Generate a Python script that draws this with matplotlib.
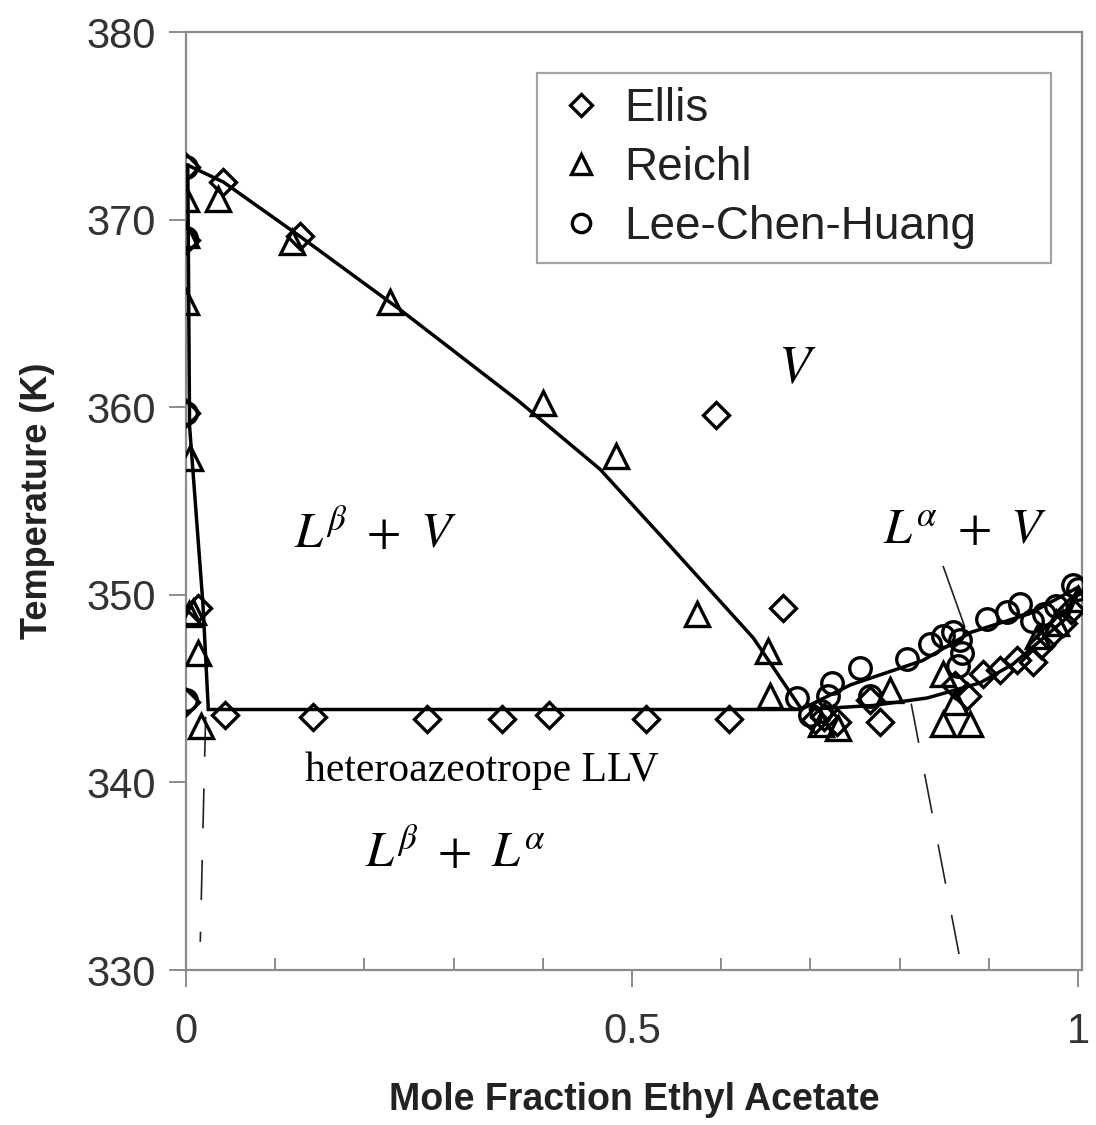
import matplotlib
matplotlib.use("Agg")
import matplotlib.pyplot as plt
from matplotlib.ticker import MultipleLocator

plt.rcParams['font.family'] = ['Liberation Sans', 'DejaVu Sans']
plt.rcParams['mathtext.fontset'] = 'stix'

# ---------------- data ----------------
ellis_x = [0.0, 0.042, 0.128, 0.0, 0.0, 0.013, 0.0, 0.044, 0.142, 0.270, 0.354, 0.407, 0.516, 0.609,
           0.594, 0.669, 0.705, 0.715, 0.730, 0.767, 0.778, 0.862, 0.875, 0.894, 0.913, 0.932, 0.950,
           0.958, 0.968, 0.983, 0.992]
ellis_T = [372.8, 372.0, 369.1, 368.9, 359.7, 349.3, 344.3, 343.6, 343.5, 343.4, 343.4, 343.6, 343.4, 343.4,
           359.6, 349.3, 343.3, 343.5, 343.2, 344.4, 343.2, 345.2, 344.6, 345.8, 346.0, 346.5, 346.4,
           347.3, 347.8, 348.5, 349.2]

reichl_x = [0.0, 0.036, 0.0, 0.119, 0.0, 0.229, 0.004, 0.400, 0.003, 0.482, 0.008, 0.573, 0.013, 0.652,
            0.655, 0.017, 0.712, 0.731, 0.789, 0.849, 0.849, 0.879, 0.862, 0.955, 0.975, 1.0]
reichl_T = [371.1, 371.1, 369.2, 368.8, 365.6, 365.6, 357.3, 360.2, 349.0, 357.4, 349.1, 349.0, 346.9, 347.0,
            344.6, 343.0, 343.1, 342.9, 344.9, 345.8, 343.1, 343.1, 344.3, 347.8, 348.5, 349.8]

lch_x = [0.0, 0.0, 0.0, 0.0, 0.685, 0.700, 0.712, 0.724, 0.720, 0.756, 0.767, 0.808, 0.834, 0.849, 0.860,
         0.868, 0.870, 0.865, 0.898, 0.920, 0.935, 0.948, 0.962, 0.975, 0.994, 1.0]
lch_T = [372.8, 369.0, 359.7, 344.4, 344.5, 343.6, 343.8, 345.3, 344.6, 346.1, 344.6, 346.6, 347.4, 347.8, 348.0,
         347.6, 346.9, 346.2, 348.7, 349.1, 349.5, 348.6, 349.0, 349.4, 350.5, 350.3]

# phase boundary curves
dew_left_x = [0.002, 0.042, 0.128, 0.240, 0.371, 0.464, 0.539, 0.636, 0.690]
dew_left_T = [372.9, 372.0, 369.1, 365.2, 360.4, 356.7, 352.8, 347.7, 343.9]
bub_left_x = [0.002, 0.004, 0.019, 0.025]
bub_left_T = [372.9, 359.0, 349.5, 343.9]
llv_x = [0.025, 0.690]
llv_T = [343.9, 343.9]
dew_right_x = [0.690, 0.745, 0.826, 0.880, 0.946, 1.0]
dew_right_T = [343.9, 345.2, 346.5, 348.0, 349.0, 350.4]
bub_right_x = [0.700, 0.770, 0.831, 0.890, 0.927, 0.988, 1.0]
bub_right_T = [343.9, 344.1, 344.5, 345.3, 346.3, 348.8, 350.1]
dash_left_x = [0.022, 0.016]
dash_left_T = [343.5, 331.5]
dash_right_x = [0.813, 0.870]
dash_right_T = [344.2, 330.0]
pointer_x = [0.849, 0.873]
pointer_T = [351.5, 348.3]

xticks = [0, 0.5, 1]
xticklabels = ['0', '0.5', '1']
yticks = [330, 340, 350, 360, 370, 380]

# ---------------- figure ----------------
W, H = 1096, 1125
fig = plt.figure(figsize=(W / 100, H / 100), dpi=100)
L, R, T, B = 186, 1082, 32, 970
ax = fig.add_axes([L / W, 1 - B / H, (R - L) / W, (B - T) / H])
ax.set_xlim(0, (R - L) / 892)
ax.set_ylim(330, 380)

spine_c = '#8c8c8c'
for s in ax.spines.values():
    s.set_color(spine_c)
    s.set_linewidth(1.6)

line_kw = dict(color='black', lw=2.5, zorder=3)
ax.plot(dew_left_x, dew_left_T, **line_kw)
ax.plot(bub_left_x, bub_left_T, **line_kw)
ax.plot(llv_x, llv_T, **line_kw)
ax.plot(dew_right_x, dew_right_T, **line_kw)
ax.plot(bub_right_x, bub_right_T, **line_kw)

dash_kw = dict(color='#222222', lw=1.2, dashes=(24, 19), zorder=2)
ax.plot(dash_left_x, dash_left_T, **dash_kw)
ax.plot(dash_right_x, dash_right_T, **dash_kw)
ax.plot(pointer_x, pointer_T, color='#222222', lw=1.2, zorder=2)

mk = dict(ls='none', mfc='none', mec='black', mew=2.4, zorder=4)
ax.plot(ellis_x, ellis_T, marker='D', ms=13, label='Ellis', **mk)
ax.plot(reichl_x, reichl_T, marker='^', ms=17, label='Reichl', **mk)
ax.plot(lch_x, lch_T, marker='o', ms=15.5, label='Lee-Chen-Huang', **mk)

# ticks
ax.set_xticks(xticks)
ax.set_xticklabels(xticklabels)
ax.xaxis.set_minor_locator(MultipleLocator(0.1))
ax.set_yticks(yticks)
ax.tick_params(axis='x', which='major', direction='out', length=12, width=1.4, color=spine_c,
               labelsize=30, labelcolor='#333333', pad=18)
ax.tick_params(axis='x', which='minor', direction='in', length=9, width=1.4, color=spine_c)
ax.tick_params(axis='y', which='major', direction='out', length=12, width=1.4, color=spine_c,
               labelsize=30, labelcolor='#333333', pad=10)

ax.set_xlabel('Mole Fraction Ethyl Acetate', fontsize=27, fontweight='bold', color='#222222', labelpad=22)
ax.set_ylabel('Temperature (K)', fontsize=26, fontweight='bold', color='#222222', labelpad=22)

# region labels
serif = ['Liberation Serif', 'DejaVu Serif']
ax.text(0.685, 362.0, r'$V$', fontsize=38, ha='center', va='center')
ax.text(0.212, 353.3, r'$L^{\beta}\ +\ V$', fontsize=36, ha='center', va='center')
ax.text(0.873, 353.4, r'$L^{\alpha}\ +\ V$', fontsize=36, ha='center', va='center')
ax.text(0.332, 340.6, 'heteroazeotrope LLV', fontsize=30, family=serif, ha='center', va='center')
ax.text(0.302, 336.3, r'$L^{\beta}\ +\ L^{\alpha}$', fontsize=36, ha='center', va='center')

leg = ax.legend(loc='upper left', bbox_to_anchor=(0.392, 0.756, 0.573, 0.2), mode='expand',
                fontsize=33, frameon=True, fancybox=False, edgecolor=spine_c,
                handlelength=1.3, handletextpad=0.3, labelspacing=0.33, borderpad=0.3,
                markerscale=0.85, borderaxespad=0)
leg.get_frame().set_linewidth(1.6)
for t in leg.get_texts():
    t.set_color('#222222')

fig.savefig('out.png', dpi=100, facecolor='white')
